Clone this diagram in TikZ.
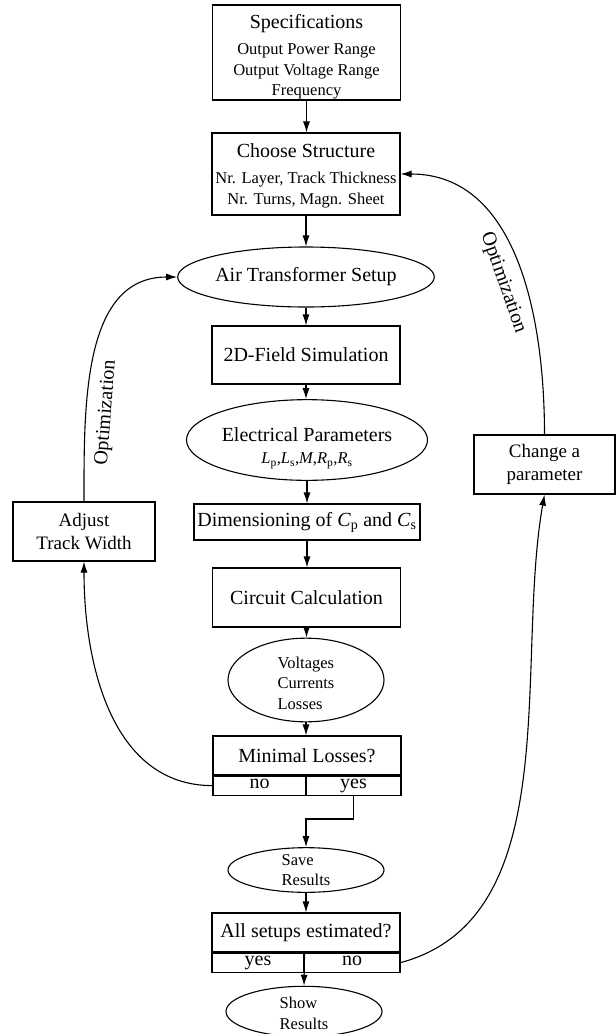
\documentclass[tikz,border=0pt]{standalone}
\usepackage{fontspec}
\setmainfont{Liberation Serif}
\usepackage{tikz}
\usetikzlibrary{positioning,shapes.geometric,arrows.meta}
\newcommand{\bigtxt}{\fontsize{20}{24}\selectfont}
\newcommand{\smalltxt}{\fontsize{16.5}{20.5}\selectfont}
\newcommand{\sidetxt}{\fontsize{19}{23}\selectfont}

\begin{document}
\begin{tikzpicture}[x=1pt, y=-1pt, line width=1.1pt, >={Latex[length=11pt,width=7pt]},
    every node/.style={font=\bigtxt},
    box/.style={draw, rectangle, minimum width=188pt, inner sep=0pt, align=center},
    cell/.style={draw, rectangle, minimum height=19pt, inner sep=0pt, text height=1.5ex, text depth=.3ex},
    oval/.style={draw, ellipse, inner sep=0pt, align=center},
    sidebox/.style={draw, rectangle, inner sep=0pt, align=center, font=\sidetxt},
    looplabel/.style={sloped, inner sep=11pt}]
    \useasboundingbox (0,0) rectangle (616,1034);

    % Main column
    \node[box, minimum height=95pt, font=\smalltxt] (spec) at (306.5,52.5) {{\bigtxt\rule{0pt}{23pt}Specifications}\\[6pt]Output Power Range\\Output Voltage Range\\Frequency};
    \node[box, minimum height=82pt, font=\smalltxt] (choose) at (306,174) {{\bigtxt\rule{0pt}{17pt}Choose Structure}\\[6pt]Nr. Layer, Track Thickness\\Nr. Turns, Magn. Sheet};
    \node[oval, minimum width=222pt, minimum height=60pt] (air) at (306,277) {Air Transformer Setup};
    \node[box, minimum height=58pt] (field) at (306,355) {2D-Field Simulation};
    \node[oval, minimum width=222pt, minimum height=66pt] (elec) at (307,440) {\rule{0pt}{30pt}Electrical Parameters\\[-2pt]\smalltxt \textit{L}\textsubscript{p},\textit{L}\textsubscript{s},\textit{M},\textit{R}\textsubscript{p},\textit{R}\textsubscript{s}};
    \node[box, minimum width=226pt, minimum height=36pt] (dim) at (307,522) {Dimensioning of \textit{C}\textsubscript{p} and \textit{C}\textsubscript{s}};
    \node[box, minimum height=59pt] (circ) at (306.5,597.5) {Circuit Calculation};
    \node[oval, minimum width=156pt, minimum height=66pt, align=left, font=\smalltxt] (volt) at (306,680) {\rule{0pt}{18pt}Voltages\\Currents\\Losses};

    % Decision: minimal losses
    \node[box, minimum height=39pt] (minloss) at (307,755.5) {Minimal Losses?};
    \node[cell, minimum width=93pt, anchor=north west] (minno) at (minloss.south west) {no};
    \node[cell, minimum width=95pt, anchor=north east] (minyes) at (minloss.south east) {yes};

    \node[oval, minimum width=156pt, minimum height=42pt, align=left, font=\smalltxt] (save) at (306,870) {Save\\Results};

    % Decision: all setups
    \node[box, minimum height=39pt] (allset) at (306,932.5) {All setups estimated?};
    \node[cell, minimum width=92pt, anchor=north west] (allyes) at (allset.south west) {yes};
    \node[cell, minimum width=96pt, anchor=north east] (allno) at (allset.south east) {no};

    \node[oval, minimum width=156pt, minimum height=43pt, align=left, font=\smalltxt] (show) at (304,1011.5) {\rule{0pt}{15pt}Show\\Results};

    % Side boxes
    \node[sidebox, minimum width=142pt, minimum height=59pt] (adjust) at (84,531.5) {Adjust\\Track Width};
    \node[sidebox, minimum width=141pt, minimum height=59pt] (change) at (544.5,464.5) {Change a\\parameter};

    % Straight arrows
    \foreach \a/\b in {spec/choose, choose/air, air/field, field/elec, elec/dim, dim/circ, circ/volt, volt/minloss, save/allset}{
        \draw[->] (\a.south) -- (\a.south |- \b.north);
    }
    \coordinate (turn) at (306,819);
    \draw[->] (minyes.south) |- (turn) -- (save.north);
    \draw[->] (allyes.north east) -- (show.north);

    % Optimization loops
    \draw[->] (adjust.north) to[out=90, in=180] node[looplabel, pos=0.3, below] {Optimization} (air.west);
    \draw[->] (minno.west) to[out=180, in=-90] (adjust.south);
    \draw[->] (change.north) to[out=90, in=0] node[looplabel, pos=0.45, below] {Optimization} (choose.east);
    \draw[->] (allno.east) to[out=15, in=-100, looseness=0.9] (change.south);
\end{tikzpicture}
\end{document}
